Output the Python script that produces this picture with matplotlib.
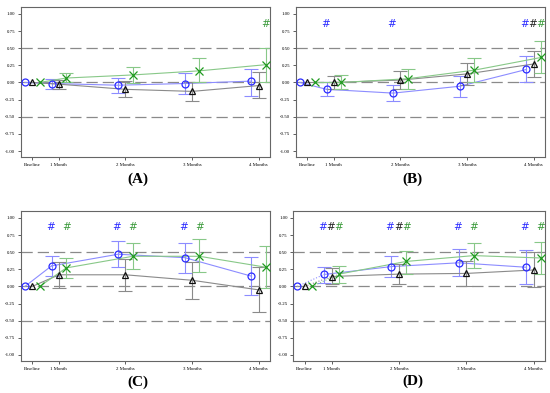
"""Change from baseline, four panels (A-D), three groups each"""
import numpy as np
import matplotlib
matplotlib.use('Agg')
import matplotlib.pyplot as plt

plt.rcParams['font.family'] = ['Liberation Serif', 'DejaVu Serif']

visits = ['Baseline', '1 Month', '2 Months', '3 Months', '4 Months']
visit_pos = [0.6, 1, 2, 3, 4]

# mean, lower CI, upper CI for months 1-4 (baseline is 0 with no CI)
# panel A
a_blue = [-0.015, -0.04, -0.015, 0.02]
a_blue_lo = [-0.09, -0.15, -0.17, -0.20]
a_blue_hi = [0.05, 0.07, 0.14, 0.20]
a_black = [-0.025, -0.10, -0.13, -0.045]
a_black_lo = [-0.10, -0.21, -0.27, -0.22]
a_black_hi = [0.03, 0.02, 0.01, 0.16]
a_green = [0.065, 0.11, 0.17, 0.26]
a_green_lo = [0.0, -0.01, 0.0, 0.01]
a_green_hi = [0.14, 0.23, 0.35, 0.50]
a_sig = {'blue': [], 'black': [], 'green': [4]}

# panel B
b_blue = [-0.10, -0.155, -0.055, 0.19]
b_blue_lo = [-0.20, -0.27, -0.21, 0.01]
b_blue_hi = [0.0, -0.04, 0.09, 0.38]
b_black = [0.0, 0.035, 0.125, 0.27]
b_black_lo = [-0.10, -0.095, -0.04, 0.08]
b_black_hi = [0.095, 0.17, 0.29, 0.46]
b_green = [0.0, 0.055, 0.18, 0.365]
b_green_lo = [-0.10, -0.09, 0.0, 0.145]
b_green_hi = [0.115, 0.20, 0.355, 0.60]
b_sig = {'blue': [1, 2, 4], 'black': [4], 'green': [4]}

# panel C
c_blue = [0.30, 0.47, 0.42, 0.15]
c_blue_lo = [0.15, 0.29, 0.20, -0.13]
c_blue_hi = [0.44, 0.66, 0.64, 0.43]
c_black = [0.17, 0.17, 0.09, -0.05]
c_black_lo = [-0.02, -0.06, -0.18, -0.37]
c_black_hi = [0.35, 0.40, 0.35, 0.28]
c_green = [0.27, 0.44, 0.44, 0.28]
c_green_lo = [0.13, 0.25, 0.21, -0.025]
c_green_hi = [0.41, 0.64, 0.69, 0.59]
c_sig = {'blue': [1, 2, 3], 'black': [], 'green': [1, 2, 3]}

# panel D
d_blue = [0.175, 0.29, 0.345, 0.28]
d_blue_lo = [0.05, 0.135, 0.155, 0.04]
d_blue_hi = [0.29, 0.45, 0.54, 0.53]
d_black = [0.145, 0.18, 0.19, 0.24]
d_black_lo = [0.03, 0.03, 0.0, -0.01]
d_black_hi = [0.27, 0.33, 0.37, 0.50]
d_green = [0.18, 0.365, 0.45, 0.415]
d_green_lo = [0.05, 0.185, 0.27, 0.185]
d_green_hi = [0.30, 0.52, 0.64, 0.65]
d_sig = {'blue': [1, 2, 3, 4], 'black': [1, 2], 'green': [1, 2, 3, 4]}

panels = [
    ('(A)', a_blue, a_blue_lo, a_blue_hi, a_black, a_black_lo, a_black_hi,
     a_green, a_green_lo, a_green_hi, a_sig),
    ('(B)', b_blue, b_blue_lo, b_blue_hi, b_black, b_black_lo, b_black_hi,
     b_green, b_green_lo, b_green_hi, b_sig),
    ('(C)', c_blue, c_blue_lo, c_blue_hi, c_black, c_black_lo, c_black_hi,
     c_green, c_green_lo, c_green_hi, c_sig),
    ('(D)', d_blue, d_blue_lo, d_blue_hi, d_black, d_black_lo, d_black_hi,
     d_green, d_green_lo, d_green_hi, d_sig),
]

# axes boxes in figure fractions
boxes = [(0.038, 0.600, 0.453, 0.382), (0.538, 0.600, 0.453, 0.382),
         (0.038, 0.081, 0.453, 0.382), (0.533, 0.081, 0.458, 0.382)]
label_xy = [(0.25, 0.545), (0.75, 0.545), (0.25, 0.028), (0.75, 0.030)]

# group styles: (offset, hash offset, marker, marker colour, line colour, hash colour)
styles = {
    'blue': (-0.11, -0.13, 'o', '#2a2aff', '#8c8cff', '#2a2aff'),
    'black': (0.0, -0.01, '^', '#111111', '#8a8a8a', '#222222'),
    'green': (0.11, 0.11, 'x', '#1f9a1f', '#88c888', '#3a9a3a'),
}

fig = plt.figure(figsize=(5.5, 3.93), dpi=100)

for i, p in enumerate(panels):
    label = p[0]
    groups = {'blue': p[1:4], 'black': p[4:7], 'green': p[7:10]}
    sig = p[10]
    ax = fig.add_axes(boxes[i])

    for y in [0.5, 0.0, -0.5]:
        ax.axhline(y, color='#8a8a8a', lw=0.9, dashes=(9, 4), zorder=1)

    for name in ['blue', 'black', 'green']:
        off, hoff, mk, mc, lc, hc = styles[name]
        mean, lo, hi = groups[name]
        x = np.array(visit_pos) + off
        y = np.array([0.0] + list(mean))
        lo = np.array(lo)
        hi = np.array(hi)
        m = np.array(mean)
        ls_first = ':' if label == '(D)' else '-'
        ax.plot(x[:2], y[:2], color=lc, lw=0.8, ls=ls_first, zorder=2)
        ax.plot(x[1:], y[1:], color=lc, lw=0.8, zorder=2)
        ax.errorbar(x[1:], m, yerr=[m - lo, hi - m], fmt='none', ecolor=lc,
                    elinewidth=0.8, capsize=5, capthick=0.8, zorder=2)
        if mk == 'x':
            ax.plot(x, y, mk, color=mc, ms=5.5, mew=0.9, zorder=3)
        else:
            ax.plot(x, y, mk, mfc='none', mec=mc, ms=5, mew=0.9, zorder=3)
        for month in sig[name]:
            ax.text(month + hoff, 0.86, '#', color=hc, fontsize=7.5,
                    style='italic', ha='center', va='center',
                    family=['DejaVu Sans'])

    ax.set_xlim(0.43, 4.17)
    ax.set_ylim(-1.09, 1.10)
    ax.set_xticks(visit_pos)
    ax.set_xticklabels(visits, fontsize=3.5)
    ax.set_yticks([1.0, 0.75, 0.5, 0.25, 0.0, -0.25, -0.5, -0.75, -1.0])
    ax.set_yticklabels(['%.2f' % v for v in ax.get_yticks()], fontsize=3.5)
    ax.tick_params(length=2, width=0.6, pad=2, color='#444444')
    for s in ax.spines.values():
        s.set_color('#666666')
        s.set_linewidth(0.8)

    fig.text(label_xy[i][0], label_xy[i][1], label, ha='center', va='center',
             fontsize=11, fontweight='bold')

fig.savefig('out.png', dpi=100, facecolor='white')
